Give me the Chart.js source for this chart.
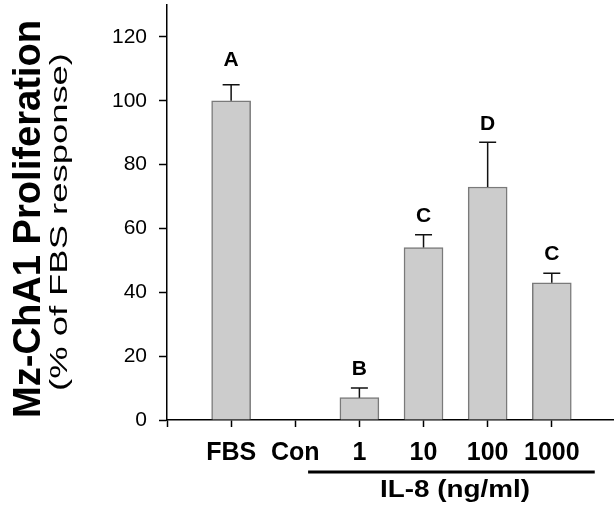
<!DOCTYPE html>
<html>
<head>
<meta charset="utf-8">
<script src="https://cdn.jsdelivr.net/npm/chart.js@4"></script>
<style>
  html, body { margin: 0; padding: 0; background: #fff; }
  #chart { display: block; }
</style>
</head>
<body>
<canvas id="chart" width="614" height="510"></canvas>
<script>
// Mz-ChA1 proliferation vs IL-8 dose, bars with upward SEM whiskers

const categories = ["FBS", "Con", "1", "10", "100", "1000"];
const means = [100, 0, 7, 54, 73, 43];
const errors = [5, 0, 3, 4, 14, 3];
const letters = ["A", "", "B", "C", "D", "C"];
const letterAt = [111, null, 14, 62, 91, 50];
const yTicks = [0, 20, 40, 60, 80, 100, 120];

const FONT = "'Liberation Sans', Arial, Helvetica, sans-serif";

// draw text squeezed/stretched along its own direction to a target length
function fitText(ctx, text, x, y, len, rotated) {
  ctx.save();
  ctx.translate(x, y);
  if (rotated) ctx.rotate(-Math.PI / 2);
  const w = ctx.measureText(text).width;
  ctx.scale(len / w, 1);
  ctx.fillText(text, 0, 0);
  ctx.restore();
}

const annotations = {
  id: "annotations",
  afterDatasetsDraw(chart) {
    const { ctx, scales } = chart;
    const xs = scales.x;
    const ys = scales.y;

    // error whiskers (upper only)
    ctx.save();
    ctx.strokeStyle = "#111";
    ctx.lineWidth = 1.5;
    means.forEach((m, i) => {
      if (!errors[i]) return;
      const px = xs.getPixelForValue(i + 1);
      const top = ys.getPixelForValue(m + errors[i]);
      ctx.beginPath();
      ctx.moveTo(px, ys.getPixelForValue(m));
      ctx.lineTo(px, top);
      ctx.moveTo(px - 8.5, top);
      ctx.lineTo(px + 8.5, top);
      ctx.stroke();
    });
    ctx.restore();

    // significance letters
    ctx.save();
    ctx.fillStyle = "#000";
    ctx.font = "bold 21px " + FONT;
    ctx.textAlign = "center";
    ctx.textBaseline = "alphabetic";
    letters.forEach((l, i) => {
      if (!l) return;
      ctx.fillText(l, xs.getPixelForValue(i + 1), ys.getPixelForValue(letterAt[i]));
    });
    ctx.restore();
  },
  afterDraw(chart) {
    const { ctx, scales } = chart;
    const xs = scales.x;
    ctx.save();
    ctx.fillStyle = "#000";
    ctx.textAlign = "center";
    ctx.textBaseline = "alphabetic";

    // y titles
    ctx.font = "bold 38px " + FONT;
    fitText(ctx, "Mz-ChA1 Proliferation", 40, 219, 398, true);
    ctx.font = "23px " + FONT;
    fitText(ctx, "(% of FBS response)", 67, 222, 338, true);

    // IL-8 group bar and label
    ctx.strokeStyle = "#000";
    ctx.lineWidth = 3;
    ctx.beginPath();
    ctx.moveTo(xs.getPixelForValue(2.2), 472);
    ctx.lineTo(xs.getPixelForValue(6.67), 472);
    ctx.stroke();
    ctx.font = "bold 24px " + FONT;
    fitText(ctx, "IL-8 (ng/ml)", 455, 497, 150, false);
    ctx.restore();
  },
};

new Chart(document.getElementById("chart"), {
  type: "bar",
  data: {
    datasets: [
      {
        data: means.map((v, i) => ({ x: i + 1, y: v })),
        backgroundColor: "#cccccc",
        borderColor: "#7a7a7a",
        borderWidth: 1.5,
        barThickness: 39,
      },
    ],
  },
  options: {
    responsive: false,
    devicePixelRatio: 1,
    animation: false,
    layout: { padding: { top: 5, left: 0, right: 0, bottom: 0 } },
    plugins: {
      legend: { display: false },
      tooltip: { enabled: false },
    },
    scales: {
      x: {
        type: "linear",
        offset: false,
        min: 0,
        max: 6.97,
        afterBuildTicks(scale) {
          scale.ticks = [0, 1, 2, 3, 4, 5, 6].map((v) => ({ value: v }));
        },
        afterFit(scale) {
          scale.height = 90;
          scale.paddingLeft = 0;
          scale.paddingRight = 0;
        },
        border: { display: true, color: "#000", width: 1.5 },
        grid: {
          offset: false,
          drawOnChartArea: false,
          drawTicks: true,
          tickLength: 7,
          tickColor: "#000",
          tickWidth: 1.5,
        },
        ticks: {
          autoSkip: false,
          maxRotation: 0,
          padding: 11,
          color: "#000",
          font: { family: FONT, size: 25, weight: "bold" },
          callback: (v) => (v >= 1 ? categories[v - 1] : ""),
        },
      },
      y: {
        min: 0,
        max: 130,
        afterBuildTicks(scale) {
          scale.ticks = yTicks.map((v) => ({ value: v }));
        },
        afterFit(scale) {
          scale.width = 167;
          scale.paddingTop = 0;
          scale.paddingBottom = 0;
        },
        border: { display: true, color: "#000", width: 1.5 },
        grid: {
          drawOnChartArea: false,
          drawTicks: true,
          tickLength: 8,
          tickColor: "#000",
          tickWidth: 1.5,
        },
        ticks: {
          padding: 12,
          color: "#000",
          font: { family: FONT, size: 21 },
        },
      },
    },
  },
  plugins: [annotations],
});
</script>
</body>
</html>
